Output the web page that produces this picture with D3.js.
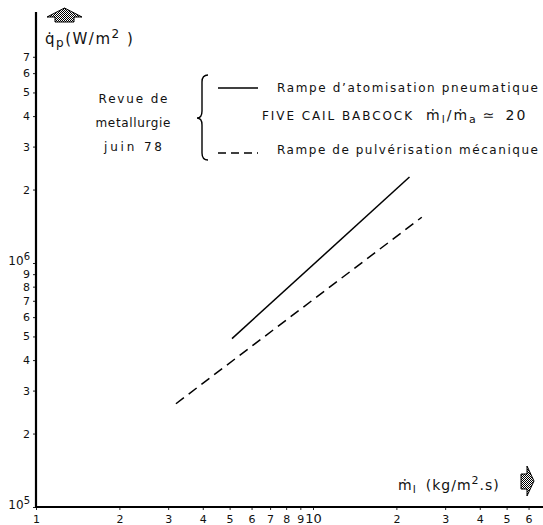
<!DOCTYPE html>
<html>
<head>
<meta charset="utf-8">
<script src="https://cdn.jsdelivr.net/npm/d3@7"></script>
<style>
  html, body { margin: 0; padding: 0; background: #fff; }
  text { font-family: 'DejaVu Sans', sans-serif; fill: #111; }
</style>
</head>
<body>
<div class="canvas"></div>
<script>
// data (log-log)
const xTicks = [1, 2, 3, 4, 5, 6, 7, 8, 9, 10, 20, 30, 40, 50, 60];
const xTickLabels = ['1', '2', '3', '4', '5', '6', '7', '8', '9', '10', '2', '3', '4', '5', '6'];
const yTicks = [1e5, 2e5, 3e5, 4e5, 5e5, 6e5, 7e5, 8e5, 9e5, 1e6, 2e6, 3e6, 4e6, 5e6, 6e6, 7e6];
const yTickLabels = ['10^5', '2', '3', '4', '5', '6', '7', '8', '9', '10^6', '2', '3', '4', '5', '6', '7'];

const mlPneumatique = [5.1, 22.3];
const qpPneumatique = [4.9e5, 2.25e6];
const mlMecanique = [3.2, 24.7];
const qpMecanique = [2.65e5, 1.54e6];

const svg = d3.select('.canvas')
  .append('svg')
  .attr('width', 543)
  .attr('height', 525);

/*--------------------------------
  SCALES
--------------------------------*/
const x = d3.scaleLog().domain([1, 100]).range([36, 590]);
const y = d3.scaleLog().domain([1e5, 1e7]).range([507, 19]);

// hatch for the arrows
const defs = svg.append('defs');
const pat = defs.append('pattern')
  .attr('id', 'hatch')
  .attr('patternUnits', 'userSpaceOnUse')
  .attr('width', 2).attr('height', 2);
pat.append('rect').attr('width', 2).attr('height', 2).attr('fill', '#fff');
pat.append('rect').attr('width', 1).attr('height', 1).attr('fill', '#000');
pat.append('rect').attr('x', 1).attr('y', 1).attr('width', 1).attr('height', 1).attr('fill', '#000');

/*--------------------------------
  AXES
--------------------------------*/
const xAxis = d3.axisBottom(x).tickValues(xTicks).tickSize(3).tickFormat((d, i) => xTickLabels[i]);
const yAxis = d3.axisLeft(y).tickValues(yTicks).tickSize(3).tickFormat((d, i) => yTickLabels[i]);

const xAxisGroup = svg.append('g')
  .attr('transform', `translate(0, ${y(1e5)})`)
  .call(xAxis);
const yAxisGroup = svg.append('g')
  .attr('transform', `translate(${x(1)}, 0)`)
  .call(yAxis);

[xAxisGroup, yAxisGroup].forEach((g) => {
  g.select('.domain').remove();
  g.selectAll('.tick line').attr('stroke', '#222').attr('stroke-width', 1);
  g.selectAll('text').attr('font-family', 'DejaVu Sans').attr('font-size', 11).attr('fill', '#111');
});
xAxisGroup.selectAll('.tick text').attr('dy', null).attr('y', 16)
  .attr('font-size', (d, i) => (xTickLabels[i] === '10' ? 13 : 11));
yAxisGroup.selectAll('.tick text').attr('x', -6);

// powers of ten with superscripts
yAxisGroup.selectAll('.tick text').each(function (d, i) {
  const lab = yTickLabels[i];
  if (lab.includes('^')) {
    const [base, exp] = lab.split('^');
    const t = d3.select(this).text('').attr('dy', '0.1em').attr('font-size', 12);
    t.append('tspan').text(base);
    t.append('tspan').attr('dy', '-0.45em').attr('font-size', 10).text(exp);
  }
});

// axis lines
svg.append('line')
  .attr('x1', x(1)).attr('x2', x(1))
  .attr('y1', 12).attr('y2', y(1e5) + 1)
  .attr('stroke', '#000').attr('stroke-width', 2.2);
svg.append('line')
  .attr('x1', x(1) - 1).attr('x2', 543)
  .attr('y1', y(1e5)).attr('y2', y(1e5))
  .attr('stroke', '#000').attr('stroke-width', 2.2);

// axis arrows
svg.append('path')
  .attr('d', 'M47,17 L64.5,8 L82,17 L74,17 L74,22 L55,22 L55,17 Z')
  .attr('fill', 'url(#hatch)').attr('stroke', '#000').attr('stroke-width', 1);
svg.append('path')
  .attr('d', 'M521,474 L527,474 L527,466 L534,481 L527,496 L527,489 L521,489 Z')
  .attr('fill', 'url(#hatch)').attr('stroke', '#000').attr('stroke-width', 1);

// axis titles
const yTitle = svg.append('text').attr('x', 45).attr('y', 44)
  .attr('font-size', 15).attr('letter-spacing', 1.5);
yTitle.append('tspan').text('q\u0307');
yTitle.append('tspan').attr('dy', 3).attr('font-size', 12).text('p');
yTitle.append('tspan').attr('dy', -3).text('(W/m');
yTitle.append('tspan').attr('dy', -6).attr('font-size', 12).text('2');
yTitle.append('tspan').attr('dy', 6).text(' )');

const xTitle = svg.append('text').attr('x', 398).attr('y', 490)
  .attr('font-size', 14).attr('letter-spacing', 1);
xTitle.append('tspan').text('\u1E41');
xTitle.append('tspan').attr('dy', 3).attr('font-size', 11).text('l');
xTitle.append('tspan').attr('dy', -3).attr('dx', 9).text('(kg/m');
xTitle.append('tspan').attr('dy', -6).attr('font-size', 11).text('2');
xTitle.append('tspan').attr('dy', 6).text('.s)');

/*--------------------------------
  LINES
--------------------------------*/
const line = d3.line().x(d => x(d[0])).y(d => y(d[1]));

svg.append('path')
  .datum(d3.zip(mlPneumatique, qpPneumatique))
  .attr('d', line)
  .attr('fill', 'none').attr('stroke', '#000').attr('stroke-width', 1.5);

svg.append('path')
  .datum(d3.zip(mlMecanique, qpMecanique))
  .attr('d', line)
  .attr('fill', 'none').attr('stroke', '#000').attr('stroke-width', 1.5)
  .attr('stroke-dasharray', '10,6');

/*--------------------------------
  ANNOTATIONS / LEGEND
--------------------------------*/
const note = ['Revue  de', 'metallurgie', 'juin  78'];
const noteW = [69, 75, 58];
note.forEach((t, i) => {
  svg.append('text')
    .attr('x', 133).attr('y', 103 + i * 24)
    .attr('text-anchor', 'middle')
    .attr('font-size', 12)
    .attr('textLength', noteW[i]).attr('lengthAdjust', 'spacing')
    .text(t);
});

// brace
svg.append('path')
  .attr('d', 'M208,75 Q202,75 202,82 L202,111 Q202,118 197,118 Q202,118 202,125 L202,153 Q202,160 208,160')
  .attr('fill', 'none').attr('stroke', '#000').attr('stroke-width', 1.4);

svg.append('line')
  .attr('x1', 218).attr('x2', 258).attr('y1', 88).attr('y2', 88)
  .attr('stroke', '#000').attr('stroke-width', 1.5);
svg.append('line')
  .attr('x1', 218).attr('x2', 258).attr('y1', 153).attr('y2', 153)
  .attr('stroke', '#000').attr('stroke-width', 1.5)
  .attr('stroke-dasharray', '8,5');

svg.append('text')
  .attr('x', 277).attr('y', 92).attr('font-size', 12)
  .attr('textLength', 261).attr('lengthAdjust', 'spacing')
  .text('Rampe  d\u2019atomisation pneumatique');

svg.append('text')
  .attr('x', 262).attr('y', 120).attr('font-size', 12)
  .attr('textLength', 150).attr('lengthAdjust', 'spacing')
  .text('FIVE CAIL  BABCOCK');

const l2 = svg.append('text')
  .attr('x', 426).attr('y', 120).attr('font-size', 14)
  .attr('letter-spacing', 2);
l2.append('tspan').text('\u1E41');
l2.append('tspan').attr('dy', 3).attr('font-size', 11).text('l');
l2.append('tspan').attr('dy', -3).text('/\u1E41');
l2.append('tspan').attr('dy', 3).attr('font-size', 11).text('a');
l2.append('tspan').attr('dy', -3).attr('dx', 5).text('\u2243');
l2.append('tspan').attr('dx', 9).text('20');

svg.append('text')
  .attr('x', 277).attr('y', 154).attr('font-size', 12)
  .attr('textLength', 261).attr('lengthAdjust', 'spacing')
  .text('Rampe  de  pulv\u00e9risation  m\u00e9canique');
</script>
</body>
</html>
